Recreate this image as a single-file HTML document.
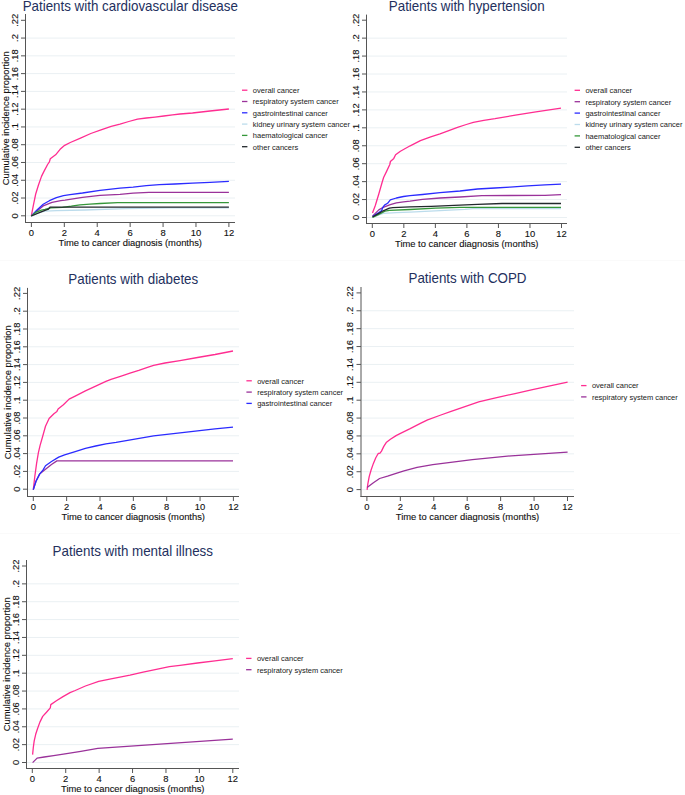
<!DOCTYPE html>
<html><head><meta charset="utf-8"><style>
html,body{margin:0;padding:0;background:#fff;}
body{width:685px;height:795px;overflow:hidden;}
svg{display:block;}
text{font-family:"Liberation Sans",sans-serif;}
.t{font-size:9.4px;fill:#111;stroke:#111;stroke-width:0.12px;}
.l{font-size:7.5px;fill:#1a1a1a;}
.ti{font-size:14px;fill:#23305e;}
</style></head><body>
<svg width="685" height="795" viewBox="0 0 685 795">
<rect width="685" height="795" fill="#fff"/>
<line x1="0" y1="260.5" x2="685" y2="260.5" stroke="#fafafa" stroke-width="1"/>
<line x1="0" y1="533.5" x2="680" y2="533.5" stroke="#fafafa" stroke-width="1"/>
<line x1="26" y1="215.8" x2="235" y2="215.8" stroke="#eaf0f3" stroke-width="1"/>
<line x1="26" y1="198.03" x2="235" y2="198.03" stroke="#eaf0f3" stroke-width="1"/>
<line x1="26" y1="180.25" x2="235" y2="180.25" stroke="#eaf0f3" stroke-width="1"/>
<line x1="26" y1="162.48" x2="235" y2="162.48" stroke="#eaf0f3" stroke-width="1"/>
<line x1="26" y1="144.71" x2="235" y2="144.71" stroke="#eaf0f3" stroke-width="1"/>
<line x1="26" y1="126.94" x2="235" y2="126.94" stroke="#eaf0f3" stroke-width="1"/>
<line x1="26" y1="109.16" x2="235" y2="109.16" stroke="#eaf0f3" stroke-width="1"/>
<line x1="26" y1="91.39" x2="235" y2="91.39" stroke="#eaf0f3" stroke-width="1"/>
<line x1="26" y1="73.62" x2="235" y2="73.62" stroke="#eaf0f3" stroke-width="1"/>
<line x1="26" y1="55.85" x2="235" y2="55.85" stroke="#eaf0f3" stroke-width="1"/>
<line x1="26" y1="38.07" x2="235" y2="38.07" stroke="#eaf0f3" stroke-width="1"/>
<line x1="25.5" y1="14" x2="25.5" y2="223" stroke="#555555" stroke-width="1"/>
<line x1="25" y1="222.5" x2="235" y2="222.5" stroke="#555555" stroke-width="1"/>
<line x1="21" y1="215.8" x2="25.5" y2="215.8" stroke="#555555" stroke-width="1"/>
<text x="0" y="0" transform="translate(17.6,215.8) rotate(-90)" text-anchor="middle" class="t">0</text>
<line x1="21" y1="198.03" x2="25.5" y2="198.03" stroke="#555555" stroke-width="1"/>
<text x="0" y="0" transform="translate(17.6,198.03) rotate(-90)" text-anchor="middle" class="t">.02</text>
<line x1="21" y1="180.25" x2="25.5" y2="180.25" stroke="#555555" stroke-width="1"/>
<text x="0" y="0" transform="translate(17.6,180.25) rotate(-90)" text-anchor="middle" class="t">.04</text>
<line x1="21" y1="162.48" x2="25.5" y2="162.48" stroke="#555555" stroke-width="1"/>
<text x="0" y="0" transform="translate(17.6,162.48) rotate(-90)" text-anchor="middle" class="t">.06</text>
<line x1="21" y1="144.71" x2="25.5" y2="144.71" stroke="#555555" stroke-width="1"/>
<text x="0" y="0" transform="translate(17.6,144.71) rotate(-90)" text-anchor="middle" class="t">.08</text>
<line x1="21" y1="126.94" x2="25.5" y2="126.94" stroke="#555555" stroke-width="1"/>
<text x="0" y="0" transform="translate(17.6,126.94) rotate(-90)" text-anchor="middle" class="t">.1</text>
<line x1="21" y1="109.16" x2="25.5" y2="109.16" stroke="#555555" stroke-width="1"/>
<text x="0" y="0" transform="translate(17.6,109.16) rotate(-90)" text-anchor="middle" class="t">.12</text>
<line x1="21" y1="91.39" x2="25.5" y2="91.39" stroke="#555555" stroke-width="1"/>
<text x="0" y="0" transform="translate(17.6,91.39) rotate(-90)" text-anchor="middle" class="t">.14</text>
<line x1="21" y1="73.62" x2="25.5" y2="73.62" stroke="#555555" stroke-width="1"/>
<text x="0" y="0" transform="translate(17.6,73.62) rotate(-90)" text-anchor="middle" class="t">.16</text>
<line x1="21" y1="55.85" x2="25.5" y2="55.85" stroke="#555555" stroke-width="1"/>
<text x="0" y="0" transform="translate(17.6,55.85) rotate(-90)" text-anchor="middle" class="t">.18</text>
<line x1="21" y1="38.07" x2="25.5" y2="38.07" stroke="#555555" stroke-width="1"/>
<text x="0" y="0" transform="translate(17.6,38.07) rotate(-90)" text-anchor="middle" class="t">.2</text>
<line x1="21" y1="20.3" x2="25.5" y2="20.3" stroke="#555555" stroke-width="1"/>
<text x="0" y="0" transform="translate(17.6,20.3) rotate(-90)" text-anchor="middle" class="t">.22</text>
<line x1="31.4" y1="222.5" x2="31.4" y2="227" stroke="#555555" stroke-width="1"/>
<text x="31.4" y="236.3" text-anchor="middle" class="t">0</text>
<line x1="64.32" y1="222.5" x2="64.32" y2="227" stroke="#555555" stroke-width="1"/>
<text x="64.32" y="236.3" text-anchor="middle" class="t">2</text>
<line x1="97.23" y1="222.5" x2="97.23" y2="227" stroke="#555555" stroke-width="1"/>
<text x="97.23" y="236.3" text-anchor="middle" class="t">4</text>
<line x1="130.15" y1="222.5" x2="130.15" y2="227" stroke="#555555" stroke-width="1"/>
<text x="130.15" y="236.3" text-anchor="middle" class="t">6</text>
<line x1="163.07" y1="222.5" x2="163.07" y2="227" stroke="#555555" stroke-width="1"/>
<text x="163.07" y="236.3" text-anchor="middle" class="t">8</text>
<line x1="195.98" y1="222.5" x2="195.98" y2="227" stroke="#555555" stroke-width="1"/>
<text x="195.98" y="236.3" text-anchor="middle" class="t">10</text>
<line x1="228.9" y1="222.5" x2="228.9" y2="227" stroke="#555555" stroke-width="1"/>
<text x="228.9" y="236.3" text-anchor="middle" class="t">12</text>
<text x="130.25" y="246.3" text-anchor="middle" class="t">Time to cancer diagnosis (months)</text>
<text x="0" y="0" transform="translate(9.1,118.25) rotate(-90)" text-anchor="middle" class="t">Cumulative incidence proportion</text>
<text x="0" y="0" transform="translate(130.25,11) scale(0.955,1)" text-anchor="middle" class="ti">Patients with cardiovascular disease</text>
<path d="M31.3,216 L33.5,204.6 L35.7,194 L38.4,185.2 L41.5,176.4 L44.1,171.1 L47.6,164.5 L49.4,161.9 L50.3,158.8 L55.6,154.8 L60.1,149.3 L64.7,145.3 L70.3,142.5 L80.5,138.1 L90.8,133.5 L101,129.9 L111.2,126.3 L120,124.1 L128.8,121.5 L137.5,119.1 L146.3,118 L155,117.1 L163.8,116 L172.6,114.9 L180,114 L192.5,113 L210,111 L228.9,109" fill="none" stroke="#ff2d91" stroke-width="1.3" stroke-linejoin="round" stroke-linecap="butt"/>
<path d="M31.3,216 L37,211 L43.2,205.9 L52,202.4 L60.8,200.6 L65,200.2 L82.5,197.3 L100,195.3 L120,194.4 L133.1,193.2 L148.9,192.3 L228.9,192.3" fill="none" stroke="#9a329a" stroke-width="1.3" stroke-linejoin="round" stroke-linecap="butt"/>
<path d="M31.3,216 L37,210 L43.2,204.2 L49.4,200.7 L56.4,197.6 L63.5,195.6 L70,194.6 L82.5,193 L100,190.3 L120,188.2 L133.1,187.1 L146.3,185.6 L159.4,184.7 L175,184 L192.5,183.1 L210,182.3 L228.9,181.4" fill="none" stroke="#2b2bff" stroke-width="1.3" stroke-linejoin="round" stroke-linecap="butt"/>
<path d="M31.3,216 L38,212.8 L45,211.1 L56.7,210.6 L85,210 L125,208.7 L170,207.9 L228.9,207.8" fill="none" stroke="#bcdcec" stroke-width="1.3" stroke-linejoin="round" stroke-linecap="butt"/>
<path d="M31.3,216 L35.7,212.4 L41.4,210.1 L45,209.4 L48.5,208.5 L50.8,207.9 L62.5,207.3 L71.3,206.2 L80,204.9 L90,204.1 L100,203.5 L117.6,202.6 L228.9,202.6" fill="none" stroke="#35973a" stroke-width="1.3" stroke-linejoin="round" stroke-linecap="butt"/>
<path d="M31.3,216 L40,212.3 L45,210.3 L48.5,209.1 L50,207.2 L228.9,207.2" fill="none" stroke="#22282c" stroke-width="1.3" stroke-linejoin="round" stroke-linecap="butt"/>
<line x1="242" y1="90.2" x2="247.4" y2="90.2" stroke="#ff2d91" stroke-width="1.3"/>
<text x="252.8" y="93" class="l">overall cancer</text>
<line x1="242" y1="101.5" x2="247.4" y2="101.5" stroke="#9a329a" stroke-width="1.3"/>
<text x="252.8" y="104.3" class="l">respiratory system cancer</text>
<line x1="242" y1="112.8" x2="247.4" y2="112.8" stroke="#2b2bff" stroke-width="1.3"/>
<text x="252.8" y="115.6" class="l">gastrointestinal cancer</text>
<line x1="242" y1="124.1" x2="247.4" y2="124.1" stroke="#bcdcec" stroke-width="1.3"/>
<text x="252.8" y="126.9" class="l">kidney urinary system cancer</text>
<line x1="242" y1="135.4" x2="247.4" y2="135.4" stroke="#35973a" stroke-width="1.3"/>
<text x="252.8" y="138.2" class="l">haematological cancer</text>
<line x1="242" y1="146.7" x2="247.4" y2="146.7" stroke="#22282c" stroke-width="1.3"/>
<text x="252.8" y="149.5" class="l">other cancers</text>
<line x1="367" y1="217.5" x2="567" y2="217.5" stroke="#eaf0f3" stroke-width="1"/>
<line x1="367" y1="199.56" x2="567" y2="199.56" stroke="#eaf0f3" stroke-width="1"/>
<line x1="367" y1="181.63" x2="567" y2="181.63" stroke="#eaf0f3" stroke-width="1"/>
<line x1="367" y1="163.69" x2="567" y2="163.69" stroke="#eaf0f3" stroke-width="1"/>
<line x1="367" y1="145.75" x2="567" y2="145.75" stroke="#eaf0f3" stroke-width="1"/>
<line x1="367" y1="127.82" x2="567" y2="127.82" stroke="#eaf0f3" stroke-width="1"/>
<line x1="367" y1="109.88" x2="567" y2="109.88" stroke="#eaf0f3" stroke-width="1"/>
<line x1="367" y1="91.95" x2="567" y2="91.95" stroke="#eaf0f3" stroke-width="1"/>
<line x1="367" y1="74.01" x2="567" y2="74.01" stroke="#eaf0f3" stroke-width="1"/>
<line x1="367" y1="56.07" x2="567" y2="56.07" stroke="#eaf0f3" stroke-width="1"/>
<line x1="367" y1="38.14" x2="567" y2="38.14" stroke="#eaf0f3" stroke-width="1"/>
<line x1="366.5" y1="14.6" x2="366.5" y2="224" stroke="#555555" stroke-width="1"/>
<line x1="366" y1="223.5" x2="567" y2="223.5" stroke="#555555" stroke-width="1"/>
<line x1="362" y1="217.5" x2="366.5" y2="217.5" stroke="#555555" stroke-width="1"/>
<text x="0" y="0" transform="translate(358.6,217.5) rotate(-90)" text-anchor="middle" class="t">0</text>
<line x1="362" y1="199.56" x2="366.5" y2="199.56" stroke="#555555" stroke-width="1"/>
<text x="0" y="0" transform="translate(358.6,199.56) rotate(-90)" text-anchor="middle" class="t">.02</text>
<line x1="362" y1="181.63" x2="366.5" y2="181.63" stroke="#555555" stroke-width="1"/>
<text x="0" y="0" transform="translate(358.6,181.63) rotate(-90)" text-anchor="middle" class="t">.04</text>
<line x1="362" y1="163.69" x2="366.5" y2="163.69" stroke="#555555" stroke-width="1"/>
<text x="0" y="0" transform="translate(358.6,163.69) rotate(-90)" text-anchor="middle" class="t">.06</text>
<line x1="362" y1="145.75" x2="366.5" y2="145.75" stroke="#555555" stroke-width="1"/>
<text x="0" y="0" transform="translate(358.6,145.75) rotate(-90)" text-anchor="middle" class="t">.08</text>
<line x1="362" y1="127.82" x2="366.5" y2="127.82" stroke="#555555" stroke-width="1"/>
<text x="0" y="0" transform="translate(358.6,127.82) rotate(-90)" text-anchor="middle" class="t">.1</text>
<line x1="362" y1="109.88" x2="366.5" y2="109.88" stroke="#555555" stroke-width="1"/>
<text x="0" y="0" transform="translate(358.6,109.88) rotate(-90)" text-anchor="middle" class="t">.12</text>
<line x1="362" y1="91.95" x2="366.5" y2="91.95" stroke="#555555" stroke-width="1"/>
<text x="0" y="0" transform="translate(358.6,91.95) rotate(-90)" text-anchor="middle" class="t">.14</text>
<line x1="362" y1="74.01" x2="366.5" y2="74.01" stroke="#555555" stroke-width="1"/>
<text x="0" y="0" transform="translate(358.6,74.01) rotate(-90)" text-anchor="middle" class="t">.16</text>
<line x1="362" y1="56.07" x2="366.5" y2="56.07" stroke="#555555" stroke-width="1"/>
<text x="0" y="0" transform="translate(358.6,56.07) rotate(-90)" text-anchor="middle" class="t">.18</text>
<line x1="362" y1="38.14" x2="366.5" y2="38.14" stroke="#555555" stroke-width="1"/>
<text x="0" y="0" transform="translate(358.6,38.14) rotate(-90)" text-anchor="middle" class="t">.2</text>
<line x1="362" y1="20.2" x2="366.5" y2="20.2" stroke="#555555" stroke-width="1"/>
<text x="0" y="0" transform="translate(358.6,20.2) rotate(-90)" text-anchor="middle" class="t">.22</text>
<line x1="372.3" y1="223.5" x2="372.3" y2="228" stroke="#555555" stroke-width="1"/>
<text x="372.3" y="237.3" text-anchor="middle" class="t">0</text>
<line x1="403.83" y1="223.5" x2="403.83" y2="228" stroke="#555555" stroke-width="1"/>
<text x="403.83" y="237.3" text-anchor="middle" class="t">2</text>
<line x1="435.37" y1="223.5" x2="435.37" y2="228" stroke="#555555" stroke-width="1"/>
<text x="435.37" y="237.3" text-anchor="middle" class="t">4</text>
<line x1="466.9" y1="223.5" x2="466.9" y2="228" stroke="#555555" stroke-width="1"/>
<text x="466.9" y="237.3" text-anchor="middle" class="t">6</text>
<line x1="498.43" y1="223.5" x2="498.43" y2="228" stroke="#555555" stroke-width="1"/>
<text x="498.43" y="237.3" text-anchor="middle" class="t">8</text>
<line x1="529.97" y1="223.5" x2="529.97" y2="228" stroke="#555555" stroke-width="1"/>
<text x="529.97" y="237.3" text-anchor="middle" class="t">10</text>
<line x1="561.5" y1="223.5" x2="561.5" y2="228" stroke="#555555" stroke-width="1"/>
<text x="561.5" y="237.3" text-anchor="middle" class="t">12</text>
<text x="466.75" y="247.3" text-anchor="middle" class="t">Time to cancer diagnosis (months)</text>
<text x="0" y="0" transform="translate(466.75,11) scale(0.955,1)" text-anchor="middle" class="ti">Patients with hypertension</text>
<path d="M372.5,213 L375.3,205.5 L378.8,194 L382.3,181.7 L383.7,177.3 L386.7,171.1 L389.8,164.5 L390.4,161.5 L393.8,158.4 L395.6,154.8 L400.4,151.2 L410.2,145.8 L420.4,140.7 L430.7,136.8 L440,133.8 L448.8,130.6 L457.5,127.3 L466.3,124.5 L473.3,122.3 L483.8,120.3 L495,118.7 L515.4,115.1 L535.9,111.8 L561,108.1" fill="none" stroke="#ff2d91" stroke-width="1.3" stroke-linejoin="round" stroke-linecap="butt"/>
<path d="M372.5,216.1 L378.8,209.9 L383.2,207.3 L390.3,204.6 L396.4,202.9 L403.5,201.8 L410,201.1 L422.5,199.4 L440,198 L460,197 L481.9,195.6 L545,195.4 L561,194.7" fill="none" stroke="#9a329a" stroke-width="1.3" stroke-linejoin="round" stroke-linecap="butt"/>
<path d="M372.5,216.5 L378.8,212.6 L381.5,210.8 L383.2,206.8 L384.5,205.1 L387.6,203.3 L390.3,199.8 L396.4,198 L403.5,196.5 L410,195.6 L422.5,194.5 L440,192.7 L460,191 L477.5,189 L495,188 L510,187.1 L527.5,185.8 L545,184.9 L561,184.2" fill="none" stroke="#2b2bff" stroke-width="1.3" stroke-linejoin="round" stroke-linecap="butt"/>
<path d="M372.5,217.4 L383.2,213.4 L396.4,212.7 L410,212.1 L435,210.8 L465,209.3 L473.1,208.7 L561,208.6" fill="none" stroke="#bcdcec" stroke-width="1.3" stroke-linejoin="round" stroke-linecap="butt"/>
<path d="M372.5,217.4 L378.8,214.3 L385,211.2 L389.4,210.4 L410,209.5 L435.7,208.2 L460,207.3 L561,207.3" fill="none" stroke="#35973a" stroke-width="1.3" stroke-linejoin="round" stroke-linecap="butt"/>
<path d="M372.5,217 L378.8,213.4 L383.2,210.8 L389.4,208.1 L392.9,207.7 L410,206.8 L431.3,206.3 L460,205.2 L477.5,204.3 L502,203.5 L561,203.5" fill="none" stroke="#22282c" stroke-width="1.3" stroke-linejoin="round" stroke-linecap="butt"/>
<line x1="574.6" y1="90.3" x2="580" y2="90.3" stroke="#ff2d91" stroke-width="1.3"/>
<text x="585.4" y="93.1" class="l">overall cancer</text>
<line x1="574.6" y1="101.7" x2="580" y2="101.7" stroke="#9a329a" stroke-width="1.3"/>
<text x="585.4" y="104.5" class="l">respiratory system cancer</text>
<line x1="574.6" y1="113.1" x2="580" y2="113.1" stroke="#2b2bff" stroke-width="1.3"/>
<text x="585.4" y="115.9" class="l">gastrointestinal cancer</text>
<line x1="574.6" y1="124.5" x2="580" y2="124.5" stroke="#bcdcec" stroke-width="1.3"/>
<text x="585.4" y="127.3" class="l">kidney urinary system cancer</text>
<line x1="574.6" y1="135.9" x2="580" y2="135.9" stroke="#35973a" stroke-width="1.3"/>
<text x="585.4" y="138.7" class="l">haematological cancer</text>
<line x1="574.6" y1="147.3" x2="580" y2="147.3" stroke="#22282c" stroke-width="1.3"/>
<text x="585.4" y="150.1" class="l">other cancers</text>
<line x1="28" y1="489.2" x2="239" y2="489.2" stroke="#eaf0f3" stroke-width="1"/>
<line x1="28" y1="471.4" x2="239" y2="471.4" stroke="#eaf0f3" stroke-width="1"/>
<line x1="28" y1="453.6" x2="239" y2="453.6" stroke="#eaf0f3" stroke-width="1"/>
<line x1="28" y1="435.8" x2="239" y2="435.8" stroke="#eaf0f3" stroke-width="1"/>
<line x1="28" y1="418" x2="239" y2="418" stroke="#eaf0f3" stroke-width="1"/>
<line x1="28" y1="400.2" x2="239" y2="400.2" stroke="#eaf0f3" stroke-width="1"/>
<line x1="28" y1="382.4" x2="239" y2="382.4" stroke="#eaf0f3" stroke-width="1"/>
<line x1="28" y1="364.6" x2="239" y2="364.6" stroke="#eaf0f3" stroke-width="1"/>
<line x1="28" y1="346.8" x2="239" y2="346.8" stroke="#eaf0f3" stroke-width="1"/>
<line x1="28" y1="329" x2="239" y2="329" stroke="#eaf0f3" stroke-width="1"/>
<line x1="28" y1="311.2" x2="239" y2="311.2" stroke="#eaf0f3" stroke-width="1"/>
<line x1="27.5" y1="287.9" x2="27.5" y2="497" stroke="#555555" stroke-width="1"/>
<line x1="27" y1="496.5" x2="239" y2="496.5" stroke="#555555" stroke-width="1"/>
<line x1="23" y1="489.2" x2="27.5" y2="489.2" stroke="#555555" stroke-width="1"/>
<text x="0" y="0" transform="translate(19.6,489.2) rotate(-90)" text-anchor="middle" class="t">0</text>
<line x1="23" y1="471.4" x2="27.5" y2="471.4" stroke="#555555" stroke-width="1"/>
<text x="0" y="0" transform="translate(19.6,471.4) rotate(-90)" text-anchor="middle" class="t">.02</text>
<line x1="23" y1="453.6" x2="27.5" y2="453.6" stroke="#555555" stroke-width="1"/>
<text x="0" y="0" transform="translate(19.6,453.6) rotate(-90)" text-anchor="middle" class="t">.04</text>
<line x1="23" y1="435.8" x2="27.5" y2="435.8" stroke="#555555" stroke-width="1"/>
<text x="0" y="0" transform="translate(19.6,435.8) rotate(-90)" text-anchor="middle" class="t">.06</text>
<line x1="23" y1="418" x2="27.5" y2="418" stroke="#555555" stroke-width="1"/>
<text x="0" y="0" transform="translate(19.6,418) rotate(-90)" text-anchor="middle" class="t">.08</text>
<line x1="23" y1="400.2" x2="27.5" y2="400.2" stroke="#555555" stroke-width="1"/>
<text x="0" y="0" transform="translate(19.6,400.2) rotate(-90)" text-anchor="middle" class="t">.1</text>
<line x1="23" y1="382.4" x2="27.5" y2="382.4" stroke="#555555" stroke-width="1"/>
<text x="0" y="0" transform="translate(19.6,382.4) rotate(-90)" text-anchor="middle" class="t">.12</text>
<line x1="23" y1="364.6" x2="27.5" y2="364.6" stroke="#555555" stroke-width="1"/>
<text x="0" y="0" transform="translate(19.6,364.6) rotate(-90)" text-anchor="middle" class="t">.14</text>
<line x1="23" y1="346.8" x2="27.5" y2="346.8" stroke="#555555" stroke-width="1"/>
<text x="0" y="0" transform="translate(19.6,346.8) rotate(-90)" text-anchor="middle" class="t">.16</text>
<line x1="23" y1="329" x2="27.5" y2="329" stroke="#555555" stroke-width="1"/>
<text x="0" y="0" transform="translate(19.6,329) rotate(-90)" text-anchor="middle" class="t">.18</text>
<line x1="23" y1="311.2" x2="27.5" y2="311.2" stroke="#555555" stroke-width="1"/>
<text x="0" y="0" transform="translate(19.6,311.2) rotate(-90)" text-anchor="middle" class="t">.2</text>
<line x1="23" y1="293.4" x2="27.5" y2="293.4" stroke="#555555" stroke-width="1"/>
<text x="0" y="0" transform="translate(19.6,293.4) rotate(-90)" text-anchor="middle" class="t">.22</text>
<line x1="33.3" y1="496.5" x2="33.3" y2="501" stroke="#555555" stroke-width="1"/>
<text x="33.3" y="510.3" text-anchor="middle" class="t">0</text>
<line x1="66.65" y1="496.5" x2="66.65" y2="501" stroke="#555555" stroke-width="1"/>
<text x="66.65" y="510.3" text-anchor="middle" class="t">2</text>
<line x1="100" y1="496.5" x2="100" y2="501" stroke="#555555" stroke-width="1"/>
<text x="100" y="510.3" text-anchor="middle" class="t">4</text>
<line x1="133.35" y1="496.5" x2="133.35" y2="501" stroke="#555555" stroke-width="1"/>
<text x="133.35" y="510.3" text-anchor="middle" class="t">6</text>
<line x1="166.7" y1="496.5" x2="166.7" y2="501" stroke="#555555" stroke-width="1"/>
<text x="166.7" y="510.3" text-anchor="middle" class="t">8</text>
<line x1="200.05" y1="496.5" x2="200.05" y2="501" stroke="#555555" stroke-width="1"/>
<text x="200.05" y="510.3" text-anchor="middle" class="t">10</text>
<line x1="233.4" y1="496.5" x2="233.4" y2="501" stroke="#555555" stroke-width="1"/>
<text x="233.4" y="510.3" text-anchor="middle" class="t">12</text>
<text x="133.25" y="520.3" text-anchor="middle" class="t">Time to cancer diagnosis (months)</text>
<text x="0" y="0" transform="translate(11.1,392.2) rotate(-90)" text-anchor="middle" class="t">Cumulative incidence proportion</text>
<text x="0" y="0" transform="translate(133.25,284) scale(0.955,1)" text-anchor="middle" class="ti">Patients with diabetes</text>
<path d="M33.3,489.6 L34.8,476.5 L36.6,463.3 L38.4,452.6 L40.1,445.4 L42.5,437 L45.5,426.3 L49.1,418.5 L53.9,413.7 L56.9,411.4 L58.1,409 L63.4,404.8 L69.1,399.1 L75.2,396.1 L85.4,390.9 L95.7,386.1 L105.9,381.4 L111,379.4 L121.2,376.1 L130,373.2 L138.8,370.4 L147.5,367.3 L153.6,365.3 L165,363 L180,360.6 L197.5,357.5 L215,354.5 L233,351" fill="none" stroke="#ff2d91" stroke-width="1.3" stroke-linejoin="round" stroke-linecap="butt"/>
<path d="M33.3,489.6 L36,481.3 L39.6,474.1 L45.5,469.3 L51.5,464.5 L56.9,460.9 L233,460.9" fill="none" stroke="#9a329a" stroke-width="1.3" stroke-linejoin="round" stroke-linecap="butt"/>
<path d="M33.3,489.6 L36,481.3 L39.6,474.1 L43.1,469.9 L45.5,465.7 L51.5,461.5 L58.7,457.1 L64.6,454.9 L75.2,451.6 L85.4,448.3 L95.7,446 L105.9,443.9 L116.1,442.4 L153.6,435.8 L180,432.9 L197.5,430.8 L215,428.9 L233,427.1" fill="none" stroke="#2b2bff" stroke-width="1.3" stroke-linejoin="round" stroke-linecap="butt"/>
<line x1="246.4" y1="380.8" x2="251.8" y2="380.8" stroke="#ff2d91" stroke-width="1.3"/>
<text x="257.2" y="383.6" class="l">overall cancer</text>
<line x1="246.4" y1="392.1" x2="251.8" y2="392.1" stroke="#9a329a" stroke-width="1.3"/>
<text x="257.2" y="394.9" class="l">respiratory system cancer</text>
<line x1="246.4" y1="403.4" x2="251.8" y2="403.4" stroke="#2b2bff" stroke-width="1.3"/>
<text x="257.2" y="406.2" class="l">gastrointestinal cancer</text>
<line x1="361.5" y1="489.6" x2="574" y2="489.6" stroke="#eaf0f3" stroke-width="1"/>
<line x1="361.5" y1="471.72" x2="574" y2="471.72" stroke="#eaf0f3" stroke-width="1"/>
<line x1="361.5" y1="453.84" x2="574" y2="453.84" stroke="#eaf0f3" stroke-width="1"/>
<line x1="361.5" y1="435.95" x2="574" y2="435.95" stroke="#eaf0f3" stroke-width="1"/>
<line x1="361.5" y1="418.07" x2="574" y2="418.07" stroke="#eaf0f3" stroke-width="1"/>
<line x1="361.5" y1="400.19" x2="574" y2="400.19" stroke="#eaf0f3" stroke-width="1"/>
<line x1="361.5" y1="382.31" x2="574" y2="382.31" stroke="#eaf0f3" stroke-width="1"/>
<line x1="361.5" y1="364.43" x2="574" y2="364.43" stroke="#eaf0f3" stroke-width="1"/>
<line x1="361.5" y1="346.55" x2="574" y2="346.55" stroke="#eaf0f3" stroke-width="1"/>
<line x1="361.5" y1="328.66" x2="574" y2="328.66" stroke="#eaf0f3" stroke-width="1"/>
<line x1="361.5" y1="310.78" x2="574" y2="310.78" stroke="#eaf0f3" stroke-width="1"/>
<line x1="361" y1="287" x2="361" y2="497" stroke="#555555" stroke-width="1"/>
<line x1="360.5" y1="496.5" x2="574" y2="496.5" stroke="#555555" stroke-width="1"/>
<line x1="356.5" y1="489.6" x2="361" y2="489.6" stroke="#555555" stroke-width="1"/>
<text x="0" y="0" transform="translate(353.1,489.6) rotate(-90)" text-anchor="middle" class="t">0</text>
<line x1="356.5" y1="471.72" x2="361" y2="471.72" stroke="#555555" stroke-width="1"/>
<text x="0" y="0" transform="translate(353.1,471.72) rotate(-90)" text-anchor="middle" class="t">.02</text>
<line x1="356.5" y1="453.84" x2="361" y2="453.84" stroke="#555555" stroke-width="1"/>
<text x="0" y="0" transform="translate(353.1,453.84) rotate(-90)" text-anchor="middle" class="t">.04</text>
<line x1="356.5" y1="435.95" x2="361" y2="435.95" stroke="#555555" stroke-width="1"/>
<text x="0" y="0" transform="translate(353.1,435.95) rotate(-90)" text-anchor="middle" class="t">.06</text>
<line x1="356.5" y1="418.07" x2="361" y2="418.07" stroke="#555555" stroke-width="1"/>
<text x="0" y="0" transform="translate(353.1,418.07) rotate(-90)" text-anchor="middle" class="t">.08</text>
<line x1="356.5" y1="400.19" x2="361" y2="400.19" stroke="#555555" stroke-width="1"/>
<text x="0" y="0" transform="translate(353.1,400.19) rotate(-90)" text-anchor="middle" class="t">.1</text>
<line x1="356.5" y1="382.31" x2="361" y2="382.31" stroke="#555555" stroke-width="1"/>
<text x="0" y="0" transform="translate(353.1,382.31) rotate(-90)" text-anchor="middle" class="t">.12</text>
<line x1="356.5" y1="364.43" x2="361" y2="364.43" stroke="#555555" stroke-width="1"/>
<text x="0" y="0" transform="translate(353.1,364.43) rotate(-90)" text-anchor="middle" class="t">.14</text>
<line x1="356.5" y1="346.55" x2="361" y2="346.55" stroke="#555555" stroke-width="1"/>
<text x="0" y="0" transform="translate(353.1,346.55) rotate(-90)" text-anchor="middle" class="t">.16</text>
<line x1="356.5" y1="328.66" x2="361" y2="328.66" stroke="#555555" stroke-width="1"/>
<text x="0" y="0" transform="translate(353.1,328.66) rotate(-90)" text-anchor="middle" class="t">.18</text>
<line x1="356.5" y1="310.78" x2="361" y2="310.78" stroke="#555555" stroke-width="1"/>
<text x="0" y="0" transform="translate(353.1,310.78) rotate(-90)" text-anchor="middle" class="t">.2</text>
<line x1="356.5" y1="292.9" x2="361" y2="292.9" stroke="#555555" stroke-width="1"/>
<text x="0" y="0" transform="translate(353.1,292.9) rotate(-90)" text-anchor="middle" class="t">.22</text>
<line x1="366.9" y1="496.5" x2="366.9" y2="501" stroke="#555555" stroke-width="1"/>
<text x="366.9" y="510.3" text-anchor="middle" class="t">0</text>
<line x1="400.33" y1="496.5" x2="400.33" y2="501" stroke="#555555" stroke-width="1"/>
<text x="400.33" y="510.3" text-anchor="middle" class="t">2</text>
<line x1="433.77" y1="496.5" x2="433.77" y2="501" stroke="#555555" stroke-width="1"/>
<text x="433.77" y="510.3" text-anchor="middle" class="t">4</text>
<line x1="467.2" y1="496.5" x2="467.2" y2="501" stroke="#555555" stroke-width="1"/>
<text x="467.2" y="510.3" text-anchor="middle" class="t">6</text>
<line x1="500.63" y1="496.5" x2="500.63" y2="501" stroke="#555555" stroke-width="1"/>
<text x="500.63" y="510.3" text-anchor="middle" class="t">8</text>
<line x1="534.07" y1="496.5" x2="534.07" y2="501" stroke="#555555" stroke-width="1"/>
<text x="534.07" y="510.3" text-anchor="middle" class="t">10</text>
<line x1="567.5" y1="496.5" x2="567.5" y2="501" stroke="#555555" stroke-width="1"/>
<text x="567.5" y="510.3" text-anchor="middle" class="t">12</text>
<text x="467.5" y="520.3" text-anchor="middle" class="t">Time to cancer diagnosis (months)</text>
<text x="0" y="0" transform="translate(467.5,283) scale(0.955,1)" text-anchor="middle" class="ti">Patients with COPD</text>
<path d="M367.1,489.8 L367.8,484.2 L369.2,476.6 L371.1,470 L373.4,463.4 L375.8,457.7 L378.2,453.5 L380,453.2 L381.5,451.1 L383.8,446.4 L386.2,442.6 L390.4,439.3 L396.1,435.6 L400,433.6 L410.2,428.7 L420.4,423.4 L427.6,419.8 L440.9,415 L451.1,411.4 L461.3,407.8 L470,404.8 L478.7,401.8 L491.3,398.8 L500,396.8 L515,393.6 L532.5,389.7 L550,385.8 L567.6,382.1" fill="none" stroke="#ff2d91" stroke-width="1.3" stroke-linejoin="round" stroke-linecap="butt"/>
<path d="M367.1,487.5 L373.4,482.7 L379.6,478.5 L387.6,476.1 L396.1,473.3 L404,470.9 L417.1,467.3 L432.8,464.7 L452.6,462.1 L472.3,459.7 L485,458.4 L511.3,455.8 L537.6,454.2 L567.6,452.2" fill="none" stroke="#9a329a" stroke-width="1.3" stroke-linejoin="round" stroke-linecap="butt"/>
<line x1="581.1" y1="385.6" x2="586.5" y2="385.6" stroke="#ff2d91" stroke-width="1.3"/>
<text x="591.9" y="388.4" class="l">overall cancer</text>
<line x1="581.1" y1="396.9" x2="586.5" y2="396.9" stroke="#9a329a" stroke-width="1.3"/>
<text x="591.9" y="399.7" class="l">respiratory system cancer</text>
<line x1="27" y1="762.5" x2="239" y2="762.5" stroke="#eaf0f3" stroke-width="1"/>
<line x1="27" y1="744.64" x2="239" y2="744.64" stroke="#eaf0f3" stroke-width="1"/>
<line x1="27" y1="726.77" x2="239" y2="726.77" stroke="#eaf0f3" stroke-width="1"/>
<line x1="27" y1="708.91" x2="239" y2="708.91" stroke="#eaf0f3" stroke-width="1"/>
<line x1="27" y1="691.05" x2="239" y2="691.05" stroke="#eaf0f3" stroke-width="1"/>
<line x1="27" y1="673.18" x2="239" y2="673.18" stroke="#eaf0f3" stroke-width="1"/>
<line x1="27" y1="655.32" x2="239" y2="655.32" stroke="#eaf0f3" stroke-width="1"/>
<line x1="27" y1="637.45" x2="239" y2="637.45" stroke="#eaf0f3" stroke-width="1"/>
<line x1="27" y1="619.59" x2="239" y2="619.59" stroke="#eaf0f3" stroke-width="1"/>
<line x1="27" y1="601.73" x2="239" y2="601.73" stroke="#eaf0f3" stroke-width="1"/>
<line x1="27" y1="583.86" x2="239" y2="583.86" stroke="#eaf0f3" stroke-width="1"/>
<line x1="26.5" y1="560" x2="26.5" y2="769" stroke="#555555" stroke-width="1"/>
<line x1="26" y1="768.5" x2="239" y2="768.5" stroke="#555555" stroke-width="1"/>
<line x1="22" y1="762.5" x2="26.5" y2="762.5" stroke="#555555" stroke-width="1"/>
<text x="0" y="0" transform="translate(18.6,762.5) rotate(-90)" text-anchor="middle" class="t">0</text>
<line x1="22" y1="744.64" x2="26.5" y2="744.64" stroke="#555555" stroke-width="1"/>
<text x="0" y="0" transform="translate(18.6,744.64) rotate(-90)" text-anchor="middle" class="t">.02</text>
<line x1="22" y1="726.77" x2="26.5" y2="726.77" stroke="#555555" stroke-width="1"/>
<text x="0" y="0" transform="translate(18.6,726.77) rotate(-90)" text-anchor="middle" class="t">.04</text>
<line x1="22" y1="708.91" x2="26.5" y2="708.91" stroke="#555555" stroke-width="1"/>
<text x="0" y="0" transform="translate(18.6,708.91) rotate(-90)" text-anchor="middle" class="t">.06</text>
<line x1="22" y1="691.05" x2="26.5" y2="691.05" stroke="#555555" stroke-width="1"/>
<text x="0" y="0" transform="translate(18.6,691.05) rotate(-90)" text-anchor="middle" class="t">.08</text>
<line x1="22" y1="673.18" x2="26.5" y2="673.18" stroke="#555555" stroke-width="1"/>
<text x="0" y="0" transform="translate(18.6,673.18) rotate(-90)" text-anchor="middle" class="t">.1</text>
<line x1="22" y1="655.32" x2="26.5" y2="655.32" stroke="#555555" stroke-width="1"/>
<text x="0" y="0" transform="translate(18.6,655.32) rotate(-90)" text-anchor="middle" class="t">.12</text>
<line x1="22" y1="637.45" x2="26.5" y2="637.45" stroke="#555555" stroke-width="1"/>
<text x="0" y="0" transform="translate(18.6,637.45) rotate(-90)" text-anchor="middle" class="t">.14</text>
<line x1="22" y1="619.59" x2="26.5" y2="619.59" stroke="#555555" stroke-width="1"/>
<text x="0" y="0" transform="translate(18.6,619.59) rotate(-90)" text-anchor="middle" class="t">.16</text>
<line x1="22" y1="601.73" x2="26.5" y2="601.73" stroke="#555555" stroke-width="1"/>
<text x="0" y="0" transform="translate(18.6,601.73) rotate(-90)" text-anchor="middle" class="t">.18</text>
<line x1="22" y1="583.86" x2="26.5" y2="583.86" stroke="#555555" stroke-width="1"/>
<text x="0" y="0" transform="translate(18.6,583.86) rotate(-90)" text-anchor="middle" class="t">.2</text>
<line x1="22" y1="566" x2="26.5" y2="566" stroke="#555555" stroke-width="1"/>
<text x="0" y="0" transform="translate(18.6,566) rotate(-90)" text-anchor="middle" class="t">.22</text>
<line x1="32.3" y1="768.5" x2="32.3" y2="773" stroke="#555555" stroke-width="1"/>
<text x="32.3" y="782.3" text-anchor="middle" class="t">0</text>
<line x1="65.72" y1="768.5" x2="65.72" y2="773" stroke="#555555" stroke-width="1"/>
<text x="65.72" y="782.3" text-anchor="middle" class="t">2</text>
<line x1="99.13" y1="768.5" x2="99.13" y2="773" stroke="#555555" stroke-width="1"/>
<text x="99.13" y="782.3" text-anchor="middle" class="t">4</text>
<line x1="132.55" y1="768.5" x2="132.55" y2="773" stroke="#555555" stroke-width="1"/>
<text x="132.55" y="782.3" text-anchor="middle" class="t">6</text>
<line x1="165.97" y1="768.5" x2="165.97" y2="773" stroke="#555555" stroke-width="1"/>
<text x="165.97" y="782.3" text-anchor="middle" class="t">8</text>
<line x1="199.38" y1="768.5" x2="199.38" y2="773" stroke="#555555" stroke-width="1"/>
<text x="199.38" y="782.3" text-anchor="middle" class="t">10</text>
<line x1="232.8" y1="768.5" x2="232.8" y2="773" stroke="#555555" stroke-width="1"/>
<text x="232.8" y="782.3" text-anchor="middle" class="t">12</text>
<text x="132.75" y="792.3" text-anchor="middle" class="t">Time to cancer diagnosis (months)</text>
<text x="0" y="0" transform="translate(10.1,664.25) rotate(-90)" text-anchor="middle" class="t">Cumulative incidence proportion</text>
<text x="0" y="0" transform="translate(132.75,556) scale(0.955,1)" text-anchor="middle" class="ti">Patients with mental illness</text>
<path d="M32.6,754.6 L33.3,747.5 L34.2,740.9 L35.7,734.3 L37.5,728.7 L39.9,722.1 L42.7,716.4 L46.5,712.2 L50.3,707.9 L50.8,704.6 L56.4,700.8 L63,696.6 L70,692.6 L75.2,690.5 L85.4,686 L98.7,681.4 L111,678.8 L121.2,676.8 L130,675.2 L143.1,672.1 L156.3,669.3 L169.4,666.6 L180,665.3 L197.5,663 L215,660.8 L232.8,658.6" fill="none" stroke="#ff2d91" stroke-width="1.3" stroke-linejoin="round" stroke-linecap="butt"/>
<path d="M32.6,762.6 L37.1,758.1 L44.2,757 L53.6,755.6 L65,753.8 L80.8,751.3 L97.8,748.4 L232.8,739.1" fill="none" stroke="#9a329a" stroke-width="1.3" stroke-linejoin="round" stroke-linecap="butt"/>
<line x1="246.1" y1="658.4" x2="251.5" y2="658.4" stroke="#ff2d91" stroke-width="1.3"/>
<text x="256.9" y="661.2" class="l">overall cancer</text>
<line x1="246.1" y1="669.7" x2="251.5" y2="669.7" stroke="#9a329a" stroke-width="1.3"/>
<text x="256.9" y="672.5" class="l">respiratory system cancer</text>
</svg>
</body></html>
